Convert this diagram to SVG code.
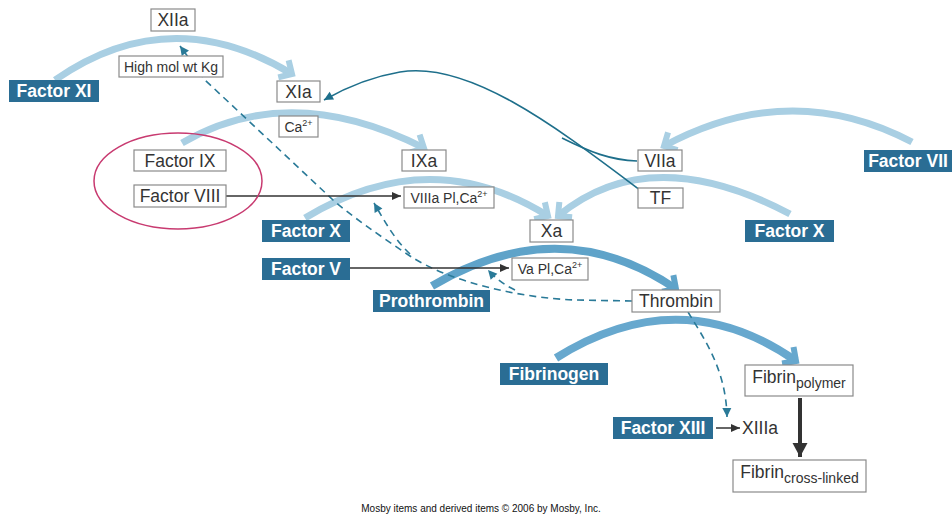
<svg xmlns="http://www.w3.org/2000/svg" width="952" height="515" viewBox="0 0 952 515">
<defs>
<style>
.arc{fill:none;stroke:#a9cfe3;stroke-width:7}
.arcP{fill:none;stroke:#5fa3c9;stroke-width:8}
.arcF{fill:none;stroke:#67a8ce;stroke-width:8}
.teal{fill:none;stroke:#1e6f8b;stroke-width:1.6}
.dash{fill:none;stroke:#2a7a98;stroke-width:1.6;stroke-dasharray:7 5}
.blk{fill:none;stroke:#333;stroke-width:1.5}
.box rect{fill:#fff;stroke:#8a8a8a;stroke-width:1.2}
.box text{font-family:"Liberation Sans",Arial,sans-serif;font-size:17.5px;fill:#333;text-anchor:middle}
.dk rect{fill:#2a6d94}
.dk text{font-family:"Liberation Sans",Arial,sans-serif;font-size:17.5px;font-weight:bold;fill:#fff;text-anchor:middle}
.sm{font-size:14px !important}
marker{overflow:visible}
</style>
<marker id="mL" markerUnits="userSpaceOnUse" markerWidth="1" markerHeight="1" refX="0" refY="0" orient="auto"><polyline points="-10,-10 0,0 -10,10" fill="none" stroke="#a9cfe3" stroke-width="6"/></marker>
<marker id="mP" markerUnits="userSpaceOnUse" markerWidth="1" markerHeight="1" refX="0" refY="0" orient="auto"><polyline points="-10,-10 0,0 -10,10" fill="none" stroke="#5fa3c9" stroke-width="6"/></marker>
<marker id="mF" markerUnits="userSpaceOnUse" markerWidth="1" markerHeight="1" refX="0" refY="0" orient="auto"><polyline points="-10,-10 0,0 -10,10" fill="none" stroke="#67a8ce" stroke-width="6"/></marker>
<marker id="mT" markerUnits="userSpaceOnUse" markerWidth="1" markerHeight="1" refX="0" refY="0" orient="auto"><path d="M-9,-4.5 L0,0 L-9,4.5 Z" fill="#1e6f8b"/></marker>
<marker id="mD" markerUnits="userSpaceOnUse" markerWidth="1" markerHeight="1" refX="0" refY="0" orient="auto"><path d="M-9,-4.5 L0,0 L-9,4.5 Z" fill="#2a7a98"/></marker>
<marker id="mB" markerUnits="userSpaceOnUse" markerWidth="1" markerHeight="1" refX="0" refY="0" orient="auto"><path d="M-9,-4 L0,0 L-9,4 Z" fill="#333"/></marker>
<marker id="mBig" markerUnits="userSpaceOnUse" markerWidth="1" markerHeight="1" refX="0" refY="0" orient="auto"><path d="M-14,-7.5 L0,0 L-14,7.5 Z" fill="#333"/></marker>
</defs>

<g id="connectors">
<path class="arc" d="M55 80 Q170 0 292 74" marker-end="url(#mL)"/>
<path class="arc" d="M182 143 Q290 80 424 148" marker-end="url(#mL)"/>
<path class="arc" d="M305 218 Q430 142 548 216" marker-end="url(#mL)"/>
<path class="arc" d="M790 214 Q650 140 558 216" marker-end="url(#mL)"/>
<path class="arc" d="M912 142 Q790 78 664 146" marker-end="url(#mL)"/>
<path class="arcP" d="M432 286 Q560 210 676 289" marker-end="url(#mP)"/>
<path class="arcF" d="M556 358 Q680 280 796 361" marker-end="url(#mF)"/>

<path class="teal" d="M640 190 C560 130 470 60 400 72 C370 77 345 88 324 100" marker-end="url(#mT)"/>
<path class="teal" d="M637 161 C610 160 590 152 562 138"/>

<path class="dash" d="M632 301 L575 300 C520 298 450 282 410 256 C380 236 350 215 333 200 L205 80 L180 46" marker-end="url(#mD)"/>
<path class="dash" d="M410 254 C395 240 385 222 374 203" marker-end="url(#mD)"/>
<path class="dash" d="M515 290 C505 285 497 280 488 270" marker-end="url(#mD)"/>
<path class="dash" d="M688 312 C705 340 726 370 727 417" marker-end="url(#mD)"/>

<path class="blk" d="M226 196 L401 196" marker-end="url(#mB)"/>
<path class="blk" d="M350 268 L509 268" marker-end="url(#mB)"/>
<path class="blk" d="M716 428 L740 428" marker-end="url(#mB)"/>
<path fill="none" stroke="#333" stroke-width="4" d="M800 398 L800 457" marker-end="url(#mBig)"/>

<ellipse cx="178" cy="181" rx="84" ry="48" fill="none" stroke="#c83a70" stroke-width="1.5"/>
</g>

<g id="n-XIIa" class="box"><rect x="151" y="9" width="44" height="22"/><text x="173" y="26">XIIa</text></g>
<g id="n-HMWK" class="box"><rect x="119" y="56" width="104" height="21"/><text class="sm" x="171" y="71.5">High mol wt Kg</text></g>
<g id="n-XIa" class="box"><rect x="277" y="81" width="43" height="21"/><text x="298.5" y="97.5">XIa</text></g>
<g id="n-Ca" class="box"><rect x="279" y="116" width="39" height="21"/><text class="sm" x="298.5" y="132">Ca<tspan font-size="9" dy="-6">2+</tspan></text></g>
<g id="n-FIX" class="box"><rect x="134" y="150" width="92" height="21"/><text x="180" y="166.5">Factor IX</text></g>
<g id="n-IXa" class="box"><rect x="402" y="150" width="44" height="21"/><text x="424" y="166.5">IXa</text></g>
<g id="n-VIIa" class="box"><rect x="638" y="150" width="44" height="21"/><text x="660" y="166.5">VIIa</text></g>
<g id="n-FVIII" class="box"><rect x="134" y="185" width="92" height="22"/><text x="180" y="202">Factor VIII</text></g>
<g id="n-VIIIa" class="box"><rect x="404" y="187" width="90" height="21"/><text class="sm" x="449" y="203">VIIIa Pl,Ca<tspan font-size="9" dy="-6">2+</tspan></text></g>
<g id="n-TF" class="box"><rect x="638" y="188" width="45" height="20"/><text x="660.5" y="204">TF</text></g>
<g id="n-Xa" class="box"><rect x="530" y="220" width="43" height="22"/><text x="551.5" y="237">Xa</text></g>
<g id="n-Va" class="box"><rect x="512" y="258" width="76" height="22"/><text class="sm" x="550" y="274">Va Pl,Ca<tspan font-size="9" dy="-6">2+</tspan></text></g>
<g id="n-Thrombin" class="box"><rect x="632" y="290" width="88" height="22"/><text x="676" y="307">Thrombin</text></g>
<g id="n-FibrinPoly" class="box"><rect x="745" y="365" width="108" height="31"/><text x="799" y="383">Fibrin<tspan font-size="14" dy="5">polymer</tspan></text></g>
<g id="n-FibrinCross" class="box"><rect x="733" y="460" width="133" height="32"/><text x="799.5" y="478">Fibrin<tspan font-size="14" dy="5">cross-linked</tspan></text></g>
<g id="n-XIIIa"><text x="742" y="434" font-family="Liberation Sans, Arial, sans-serif" font-size="17.5" fill="#333">XIIIa</text></g>

<g id="n-FXI" class="dk"><rect x="9" y="80" width="90" height="22"/><text x="54" y="97">Factor XI</text></g>
<g id="n-FVII" class="dk"><rect x="864" y="150" width="88" height="22"/><text x="908" y="167">Factor VII</text></g>
<g id="n-FXleft" class="dk"><rect x="262" y="220" width="88" height="22"/><text x="306" y="237">Factor X</text></g>
<g id="n-FXright" class="dk"><rect x="745" y="220" width="89" height="22"/><text x="789.5" y="237">Factor X</text></g>
<g id="n-FV" class="dk"><rect x="262" y="258" width="88" height="22"/><text x="306" y="275">Factor V</text></g>
<g id="n-Prothrombin" class="dk"><rect x="373" y="290" width="117" height="22"/><text x="431.5" y="307">Prothrombin</text></g>
<g id="n-Fibrinogen" class="dk"><rect x="500" y="363" width="108" height="22"/><text x="554" y="380">Fibrinogen</text></g>
<g id="n-FXIII" class="dk"><rect x="613" y="417" width="100" height="22"/><text x="663" y="434">Factor XIII</text></g>

<text x="481" y="512" font-family="Liberation Sans, Arial, sans-serif" font-size="10" fill="#111" text-anchor="middle">Mosby items and derived items © 2006 by Mosby, Inc.</text>
</svg>
